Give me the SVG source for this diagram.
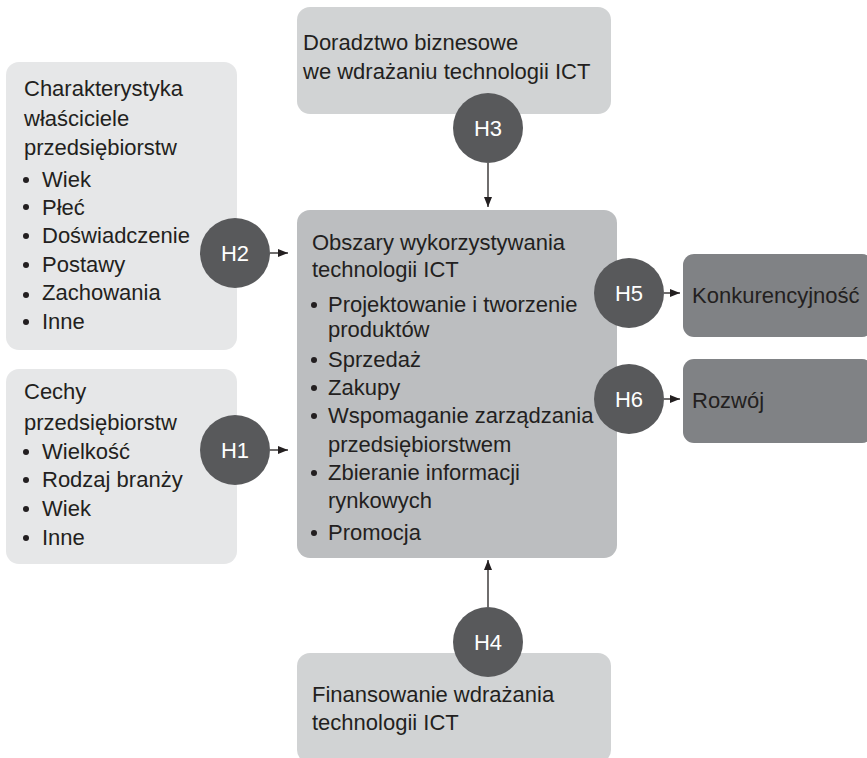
<svg xmlns="http://www.w3.org/2000/svg" width="867" height="758" viewBox="0 0 867 758">
<style>
text{font-family:"Liberation Sans",Arial,sans-serif;font-size:22px;fill:#231f20}
.light{fill:#e6e7e8}
.mid{fill:#d1d3d4}
.main{fill:#bcbec0}
.dark{fill:#808285}
.hc{fill:#58595b}
.ht{fill:#ffffff;text-anchor:middle}
.b{fill:#231f20}
.c{stroke:#231f20;stroke-width:1.3;fill:none;marker-end:url(#ah)}
</style>
<defs>
<marker id="ah" viewBox="0 0 10 8" refX="10" refY="4" markerWidth="10" markerHeight="8" markerUnits="userSpaceOnUse" orient="auto">
<path d="M0,0 L10,4 L0,8 Z" fill="#231f20"/>
</marker>
</defs>
<rect width="867" height="758" fill="#ffffff"/>
<g id="connectors">
<line class="c" x1="270" y1="253" x2="288" y2="253"/>
<line class="c" x1="270" y1="450" x2="288" y2="450"/>
<line class="c" x1="488" y1="163" x2="488" y2="207"/>
<line class="c" x1="488" y1="607" x2="488" y2="560"/>
<line class="c" x1="664" y1="293" x2="680" y2="293"/>
<line class="c" x1="664" y1="399" x2="680" y2="399"/>
</g>
<g id="owners">
<rect class="light" x="6" y="62" width="231" height="288" rx="13"/>
<text x="24" y="96">Charakterystyka</text>
<text x="24" y="126">właściciele</text>
<text x="24" y="155">przedsiębiorstw</text>
<circle class="b" cx="26" cy="180" r="3"/><text x="42" y="187">Wiek</text>
<circle class="b" cx="26" cy="207" r="3"/><text x="42" y="215">Płeć</text>
<circle class="b" cx="26" cy="236" r="3"/><text x="42" y="243">Doświadczenie</text>
<circle class="b" cx="26" cy="265" r="3"/><text x="42" y="272">Postawy</text>
<circle class="b" cx="26" cy="295" r="3"/><text x="42" y="300">Zachowania</text>
<circle class="b" cx="26" cy="322" r="3"/><text x="42" y="329">Inne</text>
</g>
<g id="firms">
<rect class="light" x="6" y="369" width="231" height="195" rx="13"/>
<text x="24" y="399">Cechy</text>
<text x="24" y="430">przedsiębiorstw</text>
<circle class="b" cx="26" cy="452" r="3"/><text x="42" y="459">Wielkość</text>
<circle class="b" cx="26" cy="480" r="3"/><text x="42" y="487">Rodzaj branży</text>
<circle class="b" cx="26" cy="509" r="3"/><text x="42" y="516">Wiek</text>
<circle class="b" cx="26" cy="538" r="3"/><text x="42" y="545">Inne</text>
</g>
<g id="advisory">
<rect class="mid" x="297" y="7" width="314" height="107" rx="13"/>
<text x="303" y="50">Doradztwo biznesowe</text>
<text x="303" y="79">we wdrażaniu technologii ICT</text>
</g>
<g id="areas">
<rect class="main" x="297" y="210" width="320" height="348" rx="13"/>
<text x="312" y="250">Obszary wykorzystywania</text>
<text x="312" y="277">technologii ICT</text>
<circle class="b" cx="314" cy="305" r="3"/><text x="328" y="312">Projektowanie i tworzenie</text>
<text x="328" y="337">produktów</text>
<circle class="b" cx="314" cy="360" r="3"/><text x="328" y="367">Sprzedaż</text>
<circle class="b" cx="314" cy="388" r="3"/><text x="328" y="395">Zakupy</text>
<circle class="b" cx="314" cy="416" r="3"/><text x="328" y="423">Wspomaganie zarządzania</text>
<text x="328" y="452">przedsiębiorstwem</text>
<circle class="b" cx="314" cy="473" r="3"/><text x="328" y="480">Zbieranie informacji</text>
<text x="328" y="508">rynkowych</text>
<circle class="b" cx="314" cy="533" r="3"/><text x="328" y="540">Promocja</text>
</g>
<g id="financing">
<rect class="mid" x="297" y="653" width="314" height="110" rx="13"/>
<text x="312" y="702">Finansowanie wdrażania</text>
<text x="312" y="730">technologii ICT</text>
</g>
<g id="competitiveness">
<rect class="dark" x="683" y="254" width="190" height="83" rx="11"/>
<text x="692" y="303">Konkurencyjność</text>
</g>
<g id="development">
<rect class="dark" x="683" y="359" width="190" height="84" rx="11"/>
<text x="692" y="408">Rozwój</text>
</g>
<g id="h2"><circle class="hc" cx="235" cy="253" r="35"/><text class="ht" x="235" y="261">H2</text></g>
<g id="h1"><circle class="hc" cx="235" cy="450" r="35"/><text class="ht" x="235" y="458">H1</text></g>
<g id="h3"><circle class="hc" cx="488" cy="128" r="35"/><text class="ht" x="488" y="136">H3</text></g>
<g id="h4"><circle class="hc" cx="488" cy="642" r="35"/><text class="ht" x="488" y="650">H4</text></g>
<g id="h5"><circle class="hc" cx="629" cy="293" r="35"/><text class="ht" x="629" y="301">H5</text></g>
<g id="h6"><circle class="hc" cx="629" cy="399" r="35"/><text class="ht" x="629" y="407">H6</text></g>
</svg>
